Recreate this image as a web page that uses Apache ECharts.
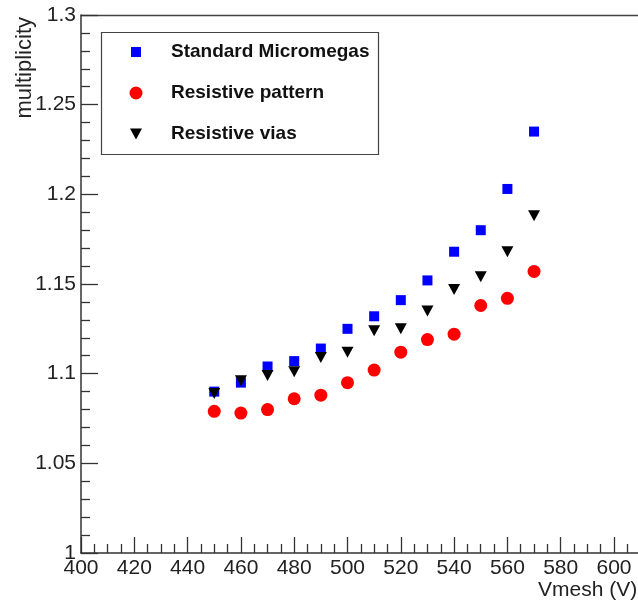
<!DOCTYPE html>
<html>
<head>
<meta charset="utf-8">
<script src="https://cdn.jsdelivr.net/npm/echarts@6/dist/echarts.min.js"></script>
<style>html,body{margin:0;padding:0;background:#fff;}#c{width:638px;height:602px;}</style>
</head>
<body>
<div id="c"></div>
<script>
const vmesh = [450, 460, 470, 480, 490, 500, 510, 520, 530, 540, 550, 560, 570];
const standardMicromegas = [1.090, 1.095, 1.104, 1.107, 1.114, 1.125, 1.132, 1.141, 1.152, 1.168, 1.180, 1.203, 1.235];
const resistivePattern = [1.079, 1.078, 1.080, 1.086, 1.088, 1.095, 1.102, 1.112, 1.119, 1.122, 1.138, 1.142, 1.157];
const resistiveVias = [1.089, 1.096, 1.099, 1.101, 1.109, 1.112, 1.124, 1.125, 1.135, 1.147, 1.154, 1.168, 1.188];
const seriesNames = ['Standard Micromegas', 'Resistive pattern', 'Resistive vias'];

const FONT = '"Liberation Sans", Arial, Helvetica, sans-serif';
const triPath = 'path://M0,0L12,0L6,11Z';
const pts = ys => vmesh.map((x, i) => [x, ys[i]]);

const chart = echarts.init(document.getElementById('c'), null, {renderer: 'canvas'});
const legendBase = (name, icon, w, h, color, rowY) => ({
  data: [{name: name, icon: icon, itemStyle: {color: color}}],
  orient: 'vertical', left: 136 - w / 2, top: rowY - 11, padding: 0,
  itemWidth: w, itemHeight: h, selectedMode: false,
  textStyle: {fontFamily: FONT, fontWeight: 'bold', fontSize: 19, color: '#111', lineHeight: 22,
              padding: [0, 0, 0, 171 - (136 + w / 2 + 5)]}
});

chart.setOption({
  animation: false,
  backgroundColor: '#fff',
  grid: {left: 81, top: 15, width: 586.3, height: 538, show: false,
         containLabel: false, outerBoundsMode: 'none'},
  xAxis: [{
    type: 'value', min: 400, max: 620, interval: 20,
    name: 'Vmesh (V)', nameLocation: 'end', nameGap: -30,
    nameMoveOverlap: false,
    nameTextStyle: {fontFamily: FONT, fontSize: 21, color: '#222', align: 'right', verticalAlign: 'top', padding: [27, 0, 0, 0]},
    axisLine: {lineStyle: {color: '#333', width: 1.5}},
    axisTick: {inside: true, length: 16, lineStyle: {color: '#333', width: 1.3}},
    minorTick: {show: true, splitNumber: 4, length: 9, lineStyle: {color: '#333', width: 1.3}},
    splitLine: {show: false},
    axisLabel: {fontFamily: FONT, fontSize: 21, color: '#222', margin: 5, showMaxLabel: false, hideOverlap: false}
  }, {
    type: 'value', min: 400, max: 620, position: 'top',
    axisLine: {show: true, lineStyle: {color: '#444', width: 1.4}},
    axisTick: {show: false}, axisLabel: {show: false}, splitLine: {show: false}
  }],
  yAxis: {
    type: 'value', min: 1, max: 1.3, interval: 0.05,
    name: 'multiplicity', nameLocation: 'end', nameGap: -2, nameRotate: 90,
    nameMoveOverlap: false,
    nameTextStyle: {fontFamily: FONT, fontSize: 22, color: '#222', align: 'right', verticalAlign: 'bottom', padding: [0, 0, 45, 0]},
    axisLine: {lineStyle: {color: '#333', width: 1.5}},
    axisTick: {inside: true, length: 17, lineStyle: {color: '#333', width: 1.3}},
    minorTick: {show: true, splitNumber: 5, length: 9, lineStyle: {color: '#333', width: 1.3}},
    splitLine: {show: false},
    axisLabel: {fontFamily: FONT, fontSize: 21, color: '#222', margin: 5, hideOverlap: false}
  },
  legend: [
    legendBase(seriesNames[0], 'rect', 10, 10, '#0000ff', 52),
    legendBase(seriesNames[1], 'circle', 13, 13, '#ff0000', 93),
    legendBase(seriesNames[2], triPath, 12, 11, '#000000', 134)
  ],
  graphic: [{type: 'rect', shape: {x: 101.5, y: 32.5, width: 277, height: 122},
             style: {fill: 'none', stroke: '#444', lineWidth: 1.2}, z: 1}],
  series: [
    {name: seriesNames[0], type: 'scatter', data: pts(standardMicromegas), symbol: 'rect', symbolSize: 10,
     itemStyle: {color: '#0000ff', opacity: 1}, z: 3},
    {name: seriesNames[2], type: 'scatter', data: pts(resistiveVias), symbol: triPath, symbolSize: [12, 11],
     itemStyle: {color: '#000000', opacity: 1}, z: 4},
    {name: seriesNames[1], type: 'scatter', data: pts(resistivePattern), symbol: 'circle', symbolSize: 13,
     itemStyle: {color: '#ff0000', opacity: 1}, z: 2}
  ]
});
</script>
</body>
</html>
